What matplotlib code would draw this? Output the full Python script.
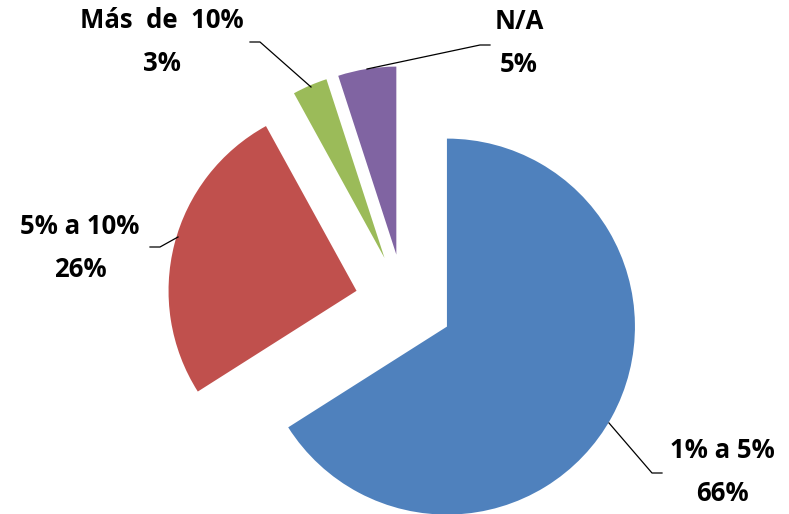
import matplotlib.pyplot as plt

# Data
labels = ["1% a 5%", "5% a 10%", "Más  de  10%", "N/A"]
values = [66, 26, 3, 5]
colors = ["#4F81BD", "#C0504D", "#9BBB59", "#8064A2"]

W, H = 789, 514
fig = plt.figure(figsize=(W / 100, H / 100), dpi=100)
ax = fig.add_axes([0, 0, 1, 1])

radius = 188
explode_px = 49
ax.pie(values, colors=colors, startangle=90, counterclock=False,
       radius=radius, center=(404, H - 303),
       explode=[explode_px] * len(values),
       wedgeprops=dict(linewidth=0))

ax.set_xlim(0, W)
ax.set_ylim(0, H)
ax.set_aspect("equal")
ax.axis("off")

font = dict(family="Open Sans", weight="bold", fontsize=18.5, color="black")

# label text positions (pixel coords, top-down) and leader lines
label_pos = [(722, 472), (80, 248), (162, 42), (519, 43)]
leaders = [
    [(662, 473), (652, 473), (609, 423)],
    [(150, 247), (160, 247), (178, 237)],
    [(250, 42), (260, 42), (311, 87)],
    [(490, 45), (480, 45), (367, 69)],
]

for lab, val, (x, y), pts in zip(labels, values, label_pos, leaders):
    ax.text(x, H - y, f"{lab}\n{val}%", ha="center", va="center",
            linespacing=1.75, **font)
    ax.plot([p[0] for p in pts], [H - p[1] for p in pts],
            color="black", linewidth=0.9)

fig.savefig("out.png", dpi=100)
